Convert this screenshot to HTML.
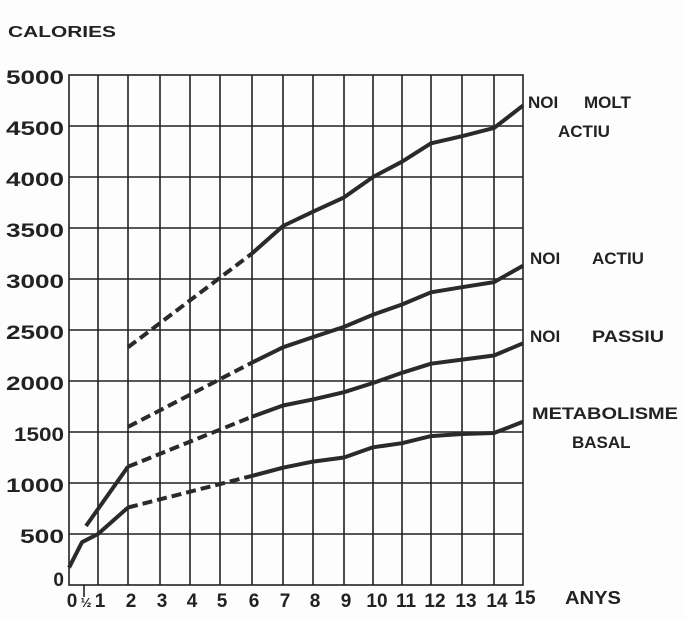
<!DOCTYPE html>
<html><head><style>body{margin:0;background:#fff}svg{display:block}text{font-family:"Liberation Sans",sans-serif;font-weight:bold;fill:#222}</style></head><body>
<svg width="686" height="621" viewBox="0 0 686 621">
<rect width="686" height="621" fill="#fdfdfd"/>
<text x="8" y="37" font-size="16" textLength="108" lengthAdjust="spacingAndGlyphs">CALORIES</text>
<g stroke="#222" stroke-width="1.6" fill="none">
<rect x="69" y="75" width="454" height="510"/>
<path d="M69 126H523M69 177H523M69 228H523M69 279H523M69 330H523M69 381H523M69 432H523M69 483H523M69 534H523"/>
<path d="M98 75V585M128 75V585M160 75V585M190 75V585M220 75V585M252 75V585M283 75V585M313 75V585M344 75V585M373 75V585M402 75V585M431 75V585M462 75V585M494 75V585M84 585V597"/>
</g>
<g font-size="19" text-anchor="end">
<text x="64" y="84" textLength="58" lengthAdjust="spacingAndGlyphs">5000</text><text x="64" y="135" textLength="58" lengthAdjust="spacingAndGlyphs">4500</text><text x="64" y="186" textLength="58" lengthAdjust="spacingAndGlyphs">4000</text><text x="64" y="237" textLength="58" lengthAdjust="spacingAndGlyphs">3500</text><text x="64" y="288" textLength="58" lengthAdjust="spacingAndGlyphs">3000</text><text x="64" y="339" textLength="58" lengthAdjust="spacingAndGlyphs">2500</text><text x="64" y="390" textLength="58" lengthAdjust="spacingAndGlyphs">2000</text><text x="64" y="441" textLength="50" lengthAdjust="spacingAndGlyphs">1500</text><text x="64" y="492" textLength="58" lengthAdjust="spacingAndGlyphs">1000</text><text x="64" y="543" textLength="44" lengthAdjust="spacingAndGlyphs">500</text><text x="64" y="586">0</text>
</g>
<g font-size="19" text-anchor="middle">
<text x="72" y="607">0</text><text x="86" y="607" font-size="13">½</text><text x="100" y="607">1</text><text x="131" y="607">2</text><text x="162" y="607">3</text><text x="192" y="607">4</text><text x="222" y="607">5</text><text x="254" y="607">6</text><text x="285" y="607">7</text><text x="315" y="607">8</text><text x="346" y="607">9</text><text x="377" y="607">10</text><text x="406" y="607">11</text><text x="435" y="607">12</text><text x="466" y="607">13</text><text x="497" y="607">14</text><text x="525" y="604">15</text>
</g>
<text x="565" y="604" font-size="18" textLength="56" lengthAdjust="spacingAndGlyphs">ANYS</text>
<g font-size="17">
<text x="528" y="108">NOI</text><text x="584" y="108">MOLT</text><text x="558" y="137">ACTIU</text>
<text x="530" y="264">NOI</text><text x="592" y="264">ACTIU</text>
<text x="530" y="342">NOI</text><text x="592" y="342" textLength="72" lengthAdjust="spacingAndGlyphs">PASSIU</text>
<text x="532" y="419" textLength="146" lengthAdjust="spacingAndGlyphs">METABOLISME</text><text x="572" y="448">BASAL</text>
</g>
<g stroke="#2a2a2a" stroke-width="4" fill="none" stroke-linejoin="round">
<path d="M128 347.3L252 253.5" stroke-dasharray="10,5"/>
<path d="M252 253.5L283 226L313 211.7L344 197.4L373 177L402 161.7L431 143.3L462 136.2L494 128L523 105.6"/>
<path d="M128 426.9L252 362.6" stroke-dasharray="10,5"/>
<path d="M252 362.6L283 347.3L313 337.1L344 326.9L373 314.7L402 304.5L431 292.3L462 287.2L494 282.1L523 265.7"/>
<path d="M86 526L128 466.7"/>
<path d="M128 466.7L252 416.7" stroke-dasharray="10,5"/>
<path d="M252 416.7L283 405.5L313 399.4L344 392.2L373 383L402 372.8L431 363.7L462 359.6L494 355.5L523 343.3"/>
<path d="M69 567.7L82 542.2L98 534L128 507.5"/>
<path d="M128 507.5L252 475.9" stroke-dasharray="10,5"/>
<path d="M252 475.9L283 467.7L313 461.6L344 457.5L373 447.3L402 443.2L431 436.1L462 434L494 433L523 421.8"/>
</g>
</svg>
</body></html>
